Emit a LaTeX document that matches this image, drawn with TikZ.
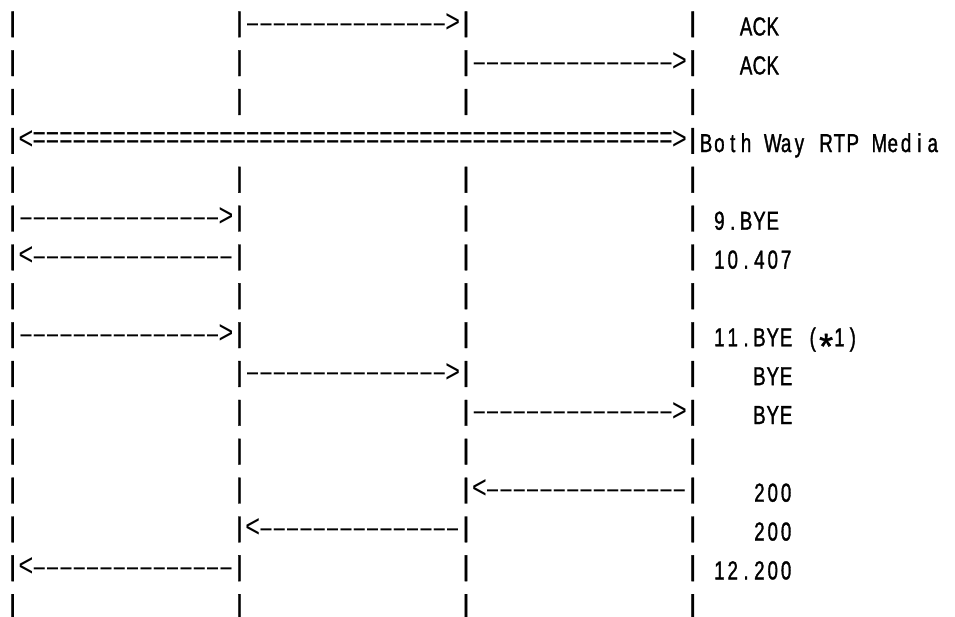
\documentclass[tikz,border=0pt]{standalone}
\usepackage{fontspec}
\usepackage{graphicx}
\newfontfamily\gfont[FakeStretch=0.72,FakeBold=1.2]{Liberation Sans}
\newfontfamily\sfont[FakeStretch=0.72]{Liberation Sans}
\newlength\cw \setlength\cw{13.335pt}
% one character per fixed-width cell, like the monospaced original
\def\monoend{\monoend}
\newcommand\mono[1]{\monoA#1\monoend}
\def\monoA#1{\ifx#1\monoend\else\monocell{#1}\expandafter\monoA\fi}
\newcommand\monocell[1]{\makebox[\cw][c]{\monoglyph{#1}}}
\newcommand\monoglyph[1]{%
  \ifx#1-\raisebox{4.3pt}{\sfont\fontsize{25}{30}\selectfont\scalebox{2.5}[1]{-}}%
  \else\ifx#1=\raisebox{3.3pt}{\sfont\fontsize{25}{30}\selectfont\scalebox{1.27}[1.3]{=}}%
  \else\ifx#1|\raisebox{4.1pt}{\fontsize{25}{30}\selectfont\scalebox{1.5}[1.1]{|}}%
  \else\ifx#1<\raisebox{2.9pt}{\sfont\fontsize{25}{30}\selectfont\scalebox{1.4}[1.3]{<}}%
  \else\ifx#1>\raisebox{2.9pt}{\sfont\fontsize{25}{30}\selectfont\scalebox{1.4}[1.3]{>}}%
  \else\ifx#1*\raisebox{-12.5pt}{\scalebox{1.9}[1.4]{*}}%
  \else\ifx#1\ \ %
  \else#1\fi\fi\fi\fi\fi\fi\fi}
\tikzset{
  txt/.style={inner sep=0pt, outer sep=0pt, anchor=base west,
    font=\gfont\fontsize{26}{30}\selectfont},
}
\newcommand\cx[1]{6.0+#1*13.335}
\newcommand\ry[1]{-35.5-(#1-1)*38.85}
\begin{document}
\begin{tikzpicture}[x=1pt,y=1pt]
\useasboundingbox (0,0) rectangle (955,-617);
% lifeline bars (row 4 has the media line across the middle lifelines)
\foreach \r in {1,...,16}
  \foreach \l in {0,1,2,3}{
    \pgfmathtruncatemacro\skip{(\r==4)&&(\l==1||\l==2)}
    \ifnum\skip=0
      \node[txt] (b\r-\l) at ({\cx{17*\l}},{\ry{\r}}) {\mono{|}};
    \fi
  }
% row 1
\node[txt] (a1) at ({\cx{18}},{\ry{1}}) {\mono{--------------->}};
\node[txt] (t1) at ({\cx{55}},{\ry{1}}) {\mono{ACK}};
% row 2
\node[txt] (a2) at ({\cx{35}},{\ry{2}}) {\mono{--------------->}};
\node[txt] (t2) at ({\cx{55}},{\ry{2}}) {\mono{ACK}};
% row 4
\node[txt] (a4) at ({\cx{1}},{\ry{4}}) {\mono{<================================================>}};
\node[txt] (t4) at ({\cx{52}},{\ry{4}}) {\mono{Both\ Way\ RTP\ Media}};
% row 6
\node[txt] (a6) at ({\cx{1}},{\ry{6}}) {\mono{--------------->}};
\node[txt] (t6) at ({\cx{53}},{\ry{6}}) {\mono{9.BYE}};
% row 7
\node[txt] (a7) at ({\cx{1}},{\ry{7}}) {\mono{<---------------}};
\node[txt] (t7) at ({\cx{53}},{\ry{7}}) {\mono{10.407}};
% row 9
\node[txt] (a9) at ({\cx{1}},{\ry{9}}) {\mono{--------------->}};
\node[txt] (t9) at ({\cx{53}},{\ry{9}}) {\mono{11.BYE\ (*1)}};
% row 10
\node[txt] (a10) at ({\cx{18}},{\ry{10}}) {\mono{--------------->}};
\node[txt] (t10) at ({\cx{56}},{\ry{10}}) {\mono{BYE}};
% row 11
\node[txt] (a11) at ({\cx{35}},{\ry{11}}) {\mono{--------------->}};
\node[txt] (t11) at ({\cx{56}},{\ry{11}}) {\mono{BYE}};
% row 13
\node[txt] (a13) at ({\cx{35}},{\ry{13}}) {\mono{<---------------}};
\node[txt] (t13) at ({\cx{56}},{\ry{13}}) {\mono{200}};
% row 14
\node[txt] (a14) at ({\cx{18}},{\ry{14}}) {\mono{<---------------}};
\node[txt] (t14) at ({\cx{56}},{\ry{14}}) {\mono{200}};
% row 15
\node[txt] (a15) at ({\cx{1}},{\ry{15}}) {\mono{<---------------}};
\node[txt] (t15) at ({\cx{53}},{\ry{15}}) {\mono{12.200}};
\end{tikzpicture}
\end{document}
